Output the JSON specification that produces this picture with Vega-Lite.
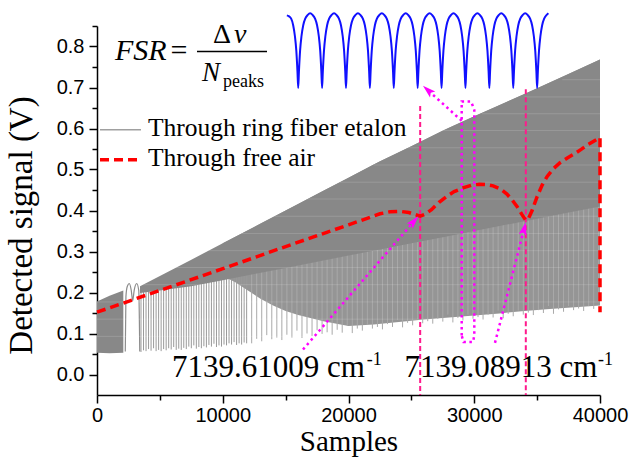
{
  "$schema": "https://vega.github.io/schema/vega-lite/v6.json",
  "width": 503,
  "height": 369,
  "autosize": {"type": "none"},
  "padding": {"left": 97, "top": 26, "right": 32, "bottom": 68},
  "background": "white",
  "config": {
    "view": {"stroke": null},
    "axis": {
      "domainColor": "black", "domainWidth": 1.5, "tickColor": "black", "tickWidth": 1.5,
      "labelColor": "black", "labelFont": "Liberation Sans", "labelFontSize": 20,
      "titleFont": "Liberation Serif", "titleFontWeight": "normal", "titleColor": "black", "grid": false
    }
  },
  "datasets": {
    "band": [
      {"s": 10000, "v": 0.24, "v2": 0.32}, {"s": 11000, "v": 0.225, "v2": 0.336}, {"s": 12000, "v": 0.205, "v2": 0.352},
      {"s": 13000, "v": 0.185, "v2": 0.368}, {"s": 14000, "v": 0.168, "v2": 0.384}, {"s": 15000, "v": 0.155, "v2": 0.4},
      {"s": 16000, "v": 0.145, "v2": 0.416}, {"s": 18000, "v": 0.13, "v2": 0.448}, {"s": 20000, "v": 0.118, "v2": 0.48},
      {"s": 22000, "v": 0.122, "v2": 0.512}, {"s": 24000, "v": 0.128, "v2": 0.542}, {"s": 26000, "v": 0.134, "v2": 0.572},
      {"s": 28000, "v": 0.139, "v2": 0.602}, {"s": 30000, "v": 0.144, "v2": 0.63}, {"s": 32000, "v": 0.149, "v2": 0.657},
      {"s": 34000, "v": 0.155, "v2": 0.684}, {"s": 36000, "v": 0.16, "v2": 0.712}, {"s": 38000, "v": 0.164, "v2": 0.74},
      {"s": 40000, "v": 0.168, "v2": 0.768}
    ],
    "dark": [
      {"seg": "a", "s": 0, "v": 0.053, "v2": 0.178}, {"seg": "a", "s": 1000, "v": 0.052, "v2": 0.192}, {"seg": "a", "s": 2094, "v": 0.053, "v2": 0.205},
      {"seg": "b", "s": 3420, "v": 0.199, "v2": 0.215}, {"seg": "b", "s": 5000, "v": 0.205, "v2": 0.24}, {"seg": "b", "s": 7500, "v": 0.215, "v2": 0.28},
      {"seg": "b", "s": 10000, "v": 0.23, "v2": 0.32}, {"seg": "b", "s": 12500, "v": 0.245, "v2": 0.36}, {"seg": "b", "s": 15000, "v": 0.26, "v2": 0.4},
      {"seg": "b", "s": 17500, "v": 0.275, "v2": 0.44}, {"seg": "b", "s": 20000, "v": 0.29, "v2": 0.48}, {"seg": "b", "s": 22500, "v": 0.305, "v2": 0.52},
      {"seg": "b", "s": 25000, "v": 0.32, "v2": 0.557}, {"seg": "b", "s": 27500, "v": 0.335, "v2": 0.595}, {"seg": "b", "s": 30000, "v": 0.35, "v2": 0.63},
      {"seg": "b", "s": 32500, "v": 0.365, "v2": 0.664}, {"seg": "b", "s": 35000, "v": 0.38, "v2": 0.698}, {"seg": "b", "s": 37500, "v": 0.395, "v2": 0.733},
      {"seg": "b", "s": 40000, "v": 0.41, "v2": 0.768}
    ],
    "spikes": [
      {"s": 3500, "v": 0.055, "v2": 0.21}, {"s": 3700, "v": 0.059, "v2": 0.211}, {"s": 3900, "v": 0.057, "v2": 0.213}, {"s": 4100, "v": 0.062, "v2": 0.215},
      {"s": 4300, "v": 0.058, "v2": 0.217}, {"s": 4500, "v": 0.064, "v2": 0.218}, {"s": 4700, "v": 0.057, "v2": 0.22}, {"s": 4900, "v": 0.06, "v2": 0.222},
      {"s": 5100, "v": 0.057, "v2": 0.223}, {"s": 5300, "v": 0.062, "v2": 0.225}, {"s": 5500, "v": 0.059, "v2": 0.227}, {"s": 5700, "v": 0.064, "v2": 0.228},
      {"s": 5900, "v": 0.061, "v2": 0.23}, {"s": 6100, "v": 0.067, "v2": 0.232}, {"s": 6300, "v": 0.06, "v2": 0.234}, {"s": 6500, "v": 0.063, "v2": 0.235},
      {"s": 6700, "v": 0.06, "v2": 0.237}, {"s": 6900, "v": 0.065, "v2": 0.239}, {"s": 7100, "v": 0.062, "v2": 0.24}, {"s": 7300, "v": 0.068, "v2": 0.242},
      {"s": 7500, "v": 0.064, "v2": 0.244}, {"s": 7700, "v": 0.071, "v2": 0.245}, {"s": 7900, "v": 0.063, "v2": 0.247}, {"s": 8100, "v": 0.067, "v2": 0.249},
      {"s": 8300, "v": 0.064, "v2": 0.251}, {"s": 8500, "v": 0.069, "v2": 0.252}, {"s": 8700, "v": 0.066, "v2": 0.254}, {"s": 8900, "v": 0.072, "v2": 0.256},
      {"s": 9100, "v": 0.068, "v2": 0.257}, {"s": 9300, "v": 0.075, "v2": 0.259}, {"s": 9500, "v": 0.067, "v2": 0.261}, {"s": 9700, "v": 0.071, "v2": 0.262},
      {"s": 9900, "v": 0.068, "v2": 0.264}, {"s": 10100, "v": 0.073, "v2": 0.266}, {"s": 10300, "v": 0.071, "v2": 0.268}, {"s": 10500, "v": 0.076, "v2": 0.269},
      {"s": 10700, "v": 0.073, "v2": 0.271}, {"s": 10900, "v": 0.079, "v2": 0.273}, {"s": 11100, "v": 0.072, "v2": 0.274}, {"s": 11300, "v": 0.076, "v2": 0.276},
      {"s": 11500, "v": 0.073, "v2": 0.278}, {"s": 11700, "v": 0.078, "v2": 0.279}, {"s": 11900, "v": 0.076, "v2": 0.281}
    ],
    "spikes2": [
      {"s": 12300, "v": 0.076, "v2": 0.285}, {"s": 12700, "v": 0.087, "v2": 0.288}, {"s": 13100, "v": 0.081, "v2": 0.291}, {"s": 13500, "v": 0.096, "v2": 0.295},
      {"s": 13900, "v": 0.086, "v2": 0.298}, {"s": 14300, "v": 0.09, "v2": 0.302}, {"s": 14700, "v": 0.084, "v2": 0.305}, {"s": 15100, "v": 0.097, "v2": 0.308},
      {"s": 15500, "v": 0.09, "v2": 0.312}, {"s": 15900, "v": 0.107, "v2": 0.315}, {"s": 16300, "v": 0.089, "v2": 0.319}, {"s": 16700, "v": 0.1, "v2": 0.322},
      {"s": 17100, "v": 0.094, "v2": 0.325}, {"s": 17500, "v": 0.108, "v2": 0.329}, {"s": 17900, "v": 0.099, "v2": 0.332}, {"s": 18300, "v": 0.103, "v2": 0.336},
      {"s": 18700, "v": 0.097, "v2": 0.339}, {"s": 19100, "v": 0.109, "v2": 0.342}, {"s": 19500, "v": 0.102, "v2": 0.346}, {"s": 19900, "v": 0.12, "v2": 0.349},
      {"s": 20300, "v": 0.101, "v2": 0.353}, {"s": 20700, "v": 0.112, "v2": 0.356}, {"s": 21100, "v": 0.107, "v2": 0.359}, {"s": 21500, "v": 0.121, "v2": 0.363},
      {"s": 21900, "v": 0.112, "v2": 0.366}, {"s": 22300, "v": 0.116, "v2": 0.37}, {"s": 22700, "v": 0.11, "v2": 0.373}, {"s": 23100, "v": 0.123, "v2": 0.376},
      {"s": 23500, "v": 0.116, "v2": 0.38}, {"s": 23900, "v": 0.133, "v2": 0.383}, {"s": 24300, "v": 0.115, "v2": 0.387}, {"s": 24700, "v": 0.126, "v2": 0.39},
      {"s": 25100, "v": 0.12, "v2": 0.393}, {"s": 25500, "v": 0.135, "v2": 0.397}, {"s": 25900, "v": 0.125, "v2": 0.4}, {"s": 26300, "v": 0.13, "v2": 0.404},
      {"s": 26700, "v": 0.124, "v2": 0.407}, {"s": 27100, "v": 0.136, "v2": 0.41}, {"s": 27500, "v": 0.129, "v2": 0.414}, {"s": 27900, "v": 0.146, "v2": 0.417},
      {"s": 28300, "v": 0.127, "v2": 0.421}, {"s": 28700, "v": 0.138, "v2": 0.424}, {"s": 29100, "v": 0.132, "v2": 0.427}, {"s": 29500, "v": 0.146, "v2": 0.431},
      {"s": 29900, "v": 0.136, "v2": 0.434}, {"s": 30300, "v": 0.14, "v2": 0.438}, {"s": 30700, "v": 0.134, "v2": 0.441}, {"s": 31100, "v": 0.146, "v2": 0.444},
      {"s": 31500, "v": 0.139, "v2": 0.448}, {"s": 31900, "v": 0.156, "v2": 0.451}, {"s": 32300, "v": 0.137, "v2": 0.455}, {"s": 32700, "v": 0.148, "v2": 0.458},
      {"s": 33100, "v": 0.142, "v2": 0.461}, {"s": 33500, "v": 0.156, "v2": 0.465}, {"s": 33900, "v": 0.146, "v2": 0.468}, {"s": 34300, "v": 0.151, "v2": 0.472},
      {"s": 34700, "v": 0.145, "v2": 0.475}, {"s": 35100, "v": 0.157, "v2": 0.478}, {"s": 35500, "v": 0.15, "v2": 0.482}, {"s": 35900, "v": 0.167, "v2": 0.485},
      {"s": 36300, "v": 0.148, "v2": 0.489}, {"s": 36700, "v": 0.159, "v2": 0.492}, {"s": 37100, "v": 0.153, "v2": 0.495}, {"s": 37500, "v": 0.167, "v2": 0.499},
      {"s": 37900, "v": 0.157, "v2": 0.502}, {"s": 38300, "v": 0.161, "v2": 0.506}, {"s": 38700, "v": 0.155, "v2": 0.509}, {"s": 39100, "v": 0.167, "v2": 0.512},
      {"s": 39500, "v": 0.16, "v2": 0.516}, {"s": 39900, "v": 0.177, "v2": 0.519}
    ],
    "loops": [
      {"s": 2250, "v": 0.056}, {"s": 2300, "v": 0.19}, {"s": 2400, "v": 0.214}, {"s": 2570, "v": 0.222}, {"s": 2720, "v": 0.206},
      {"s": 2839, "v": 0.18}, {"s": 2960, "v": 0.206}, {"s": 3157, "v": 0.222}, {"s": 3320, "v": 0.205}, {"s": 3400, "v": 0.056}
    ],
    "hl": [
      {"v": 0.093, "s": 0, "s2": 40000}, {"v": 0.135, "s": 0, "s2": 40000}, {"v": 0.177, "s": 0, "s2": 40000}, {"v": 0.219, "s": 3700, "s2": 40000},
      {"v": 0.261, "s": 6300, "s2": 40000}, {"v": 0.302, "s": 8900, "s2": 40000}, {"v": 0.344, "s": 11500, "s2": 40000}, {"v": 0.386, "s": 14100, "s2": 40000},
      {"v": 0.428, "s": 16700, "s2": 40000}, {"v": 0.469, "s": 19300, "s2": 40000}, {"v": 0.511, "s": 22000, "s2": 40000}, {"v": 0.553, "s": 24700, "s2": 40000},
      {"v": 0.595, "s": 27500, "s2": 40000}, {"v": 0.636, "s": 30600, "s2": 40000}, {"v": 0.677, "s": 34000, "s2": 40000}, {"v": 0.719, "s": 37000, "s2": 40000}
    ],
    "vlines": [{"s": 25700, "v": 0.655, "v2": -0.05}, {"s": 34100, "v": 0.696, "v2": -0.05}],
    "red": [
      {"o": 1, "s": 0, "v": 0.152}, {"o": 2, "s": 5000, "v": 0.205}, {"o": 3, "s": 10000, "v": 0.258}, {"o": 4, "s": 15000, "v": 0.312},
      {"o": 5, "s": 20000, "v": 0.365}, {"o": 6, "s": 22500, "v": 0.392}, {"o": 7, "s": 23300, "v": 0.397}, {"o": 8, "s": 24100, "v": 0.398},
      {"o": 9, "s": 24800, "v": 0.395}, {"o": 10, "s": 25300, "v": 0.39}, {"o": 11, "s": 25700, "v": 0.386}, {"o": 12, "s": 26100, "v": 0.391},
      {"o": 13, "s": 26600, "v": 0.402}, {"o": 14, "s": 27200, "v": 0.42}, {"o": 15, "s": 27800, "v": 0.434}, {"o": 16, "s": 28400, "v": 0.446},
      {"o": 17, "s": 29100, "v": 0.455}, {"o": 18, "s": 29800, "v": 0.462}, {"o": 19, "s": 30400, "v": 0.464}, {"o": 20, "s": 31000, "v": 0.463},
      {"o": 21, "s": 31500, "v": 0.46}, {"o": 22, "s": 32100, "v": 0.452}, {"o": 23, "s": 32600, "v": 0.44}, {"o": 24, "s": 33000, "v": 0.426},
      {"o": 25, "s": 33400, "v": 0.41}, {"o": 26, "s": 33800, "v": 0.39}, {"o": 27, "s": 34100, "v": 0.376}, {"o": 28, "s": 34300, "v": 0.38},
      {"o": 29, "s": 34600, "v": 0.4}, {"o": 30, "s": 35000, "v": 0.434}, {"o": 31, "s": 35400, "v": 0.462}, {"o": 32, "s": 35800, "v": 0.483},
      {"o": 33, "s": 36300, "v": 0.502}, {"o": 34, "s": 36800, "v": 0.516}, {"o": 35, "s": 37400, "v": 0.528}, {"o": 36, "s": 37900, "v": 0.537},
      {"o": 37, "s": 38500, "v": 0.549}, {"o": 38, "s": 39000, "v": 0.56}, {"o": 39, "s": 39500, "v": 0.569}, {"o": 40, "s": 40000, "v": 0.578},
      {"o": 41, "s": 40000, "v": 0.152}
    ],
    "dots": [
      {"id": "loop", "o": 1, "s": 29002, "v": 0.095}, {"id": "loop", "o": 2, "s": 29002, "v": 0.666}, {"id": "loop", "o": 3, "s": 29750, "v": 0.666},
      {"id": "loop", "o": 4, "s": 30004, "v": 0.645}, {"id": "loop", "o": 5, "s": 30004, "v": 0.095}, {"id": "loop", "o": 6, "s": 29900, "v": 0.079},
      {"id": "loop", "o": 7, "s": 29150, "v": 0.079}, {"id": "loop", "o": 8, "s": 29002, "v": 0.095},
      {"id": "a1", "o": 1, "s": 16382, "v": 0.061}, {"id": "a1", "o": 2, "s": 25213, "v": 0.3738},
      {"id": "a2", "o": 1, "s": 31650, "v": 0.0772}, {"id": "a2", "o": 2, "s": 33964, "v": 0.3558},
      {"id": "a3", "o": 1, "s": 29002, "v": 0.6189}, {"id": "a3", "o": 2, "s": 26306, "v": 0.6935}
    ],
    "blue": [
      {"s": 15100, "v": 0.876},
      {"s": 15240, "v": 0.874}, {"s": 15440, "v": 0.868}, {"s": 15600, "v": 0.852}, {"s": 15740, "v": 0.825}, {"s": 15850, "v": 0.79}, {"s": 15940, "v": 0.74}, {"s": 16000, "v": 0.699},
      {"s": 16060, "v": 0.74}, {"s": 16150, "v": 0.79}, {"s": 16260, "v": 0.825}, {"s": 16400, "v": 0.852}, {"s": 16560, "v": 0.868}, {"s": 16760, "v": 0.877}, {"s": 16950, "v": 0.881},
      {"s": 17140, "v": 0.877}, {"s": 17340, "v": 0.868}, {"s": 17500, "v": 0.852}, {"s": 17640, "v": 0.825}, {"s": 17750, "v": 0.79}, {"s": 17840, "v": 0.74}, {"s": 17900, "v": 0.699},
      {"s": 17960, "v": 0.74}, {"s": 18050, "v": 0.79}, {"s": 18160, "v": 0.825}, {"s": 18300, "v": 0.852}, {"s": 18460, "v": 0.868}, {"s": 18660, "v": 0.877}, {"s": 18850, "v": 0.881},
      {"s": 19040, "v": 0.877}, {"s": 19240, "v": 0.868}, {"s": 19400, "v": 0.852}, {"s": 19540, "v": 0.825}, {"s": 19650, "v": 0.79}, {"s": 19740, "v": 0.74}, {"s": 19800, "v": 0.699},
      {"s": 19860, "v": 0.74}, {"s": 19950, "v": 0.79}, {"s": 20060, "v": 0.825}, {"s": 20200, "v": 0.852}, {"s": 20360, "v": 0.868}, {"s": 20560, "v": 0.877}, {"s": 20750, "v": 0.881},
      {"s": 20940, "v": 0.877}, {"s": 21140, "v": 0.868}, {"s": 21300, "v": 0.852}, {"s": 21440, "v": 0.825}, {"s": 21550, "v": 0.79}, {"s": 21640, "v": 0.74}, {"s": 21700, "v": 0.699},
      {"s": 21760, "v": 0.74}, {"s": 21850, "v": 0.79}, {"s": 21960, "v": 0.825}, {"s": 22100, "v": 0.852}, {"s": 22260, "v": 0.868}, {"s": 22460, "v": 0.877}, {"s": 22650, "v": 0.881},
      {"s": 22840, "v": 0.877}, {"s": 23040, "v": 0.868}, {"s": 23200, "v": 0.852}, {"s": 23340, "v": 0.825}, {"s": 23450, "v": 0.79}, {"s": 23540, "v": 0.74}, {"s": 23600, "v": 0.699},
      {"s": 23660, "v": 0.74}, {"s": 23750, "v": 0.79}, {"s": 23860, "v": 0.825}, {"s": 24000, "v": 0.852}, {"s": 24160, "v": 0.868}, {"s": 24360, "v": 0.877}, {"s": 24550, "v": 0.881},
      {"s": 24740, "v": 0.877}, {"s": 24940, "v": 0.868}, {"s": 25100, "v": 0.852}, {"s": 25240, "v": 0.825}, {"s": 25350, "v": 0.79}, {"s": 25440, "v": 0.74}, {"s": 25500, "v": 0.699},
      {"s": 25560, "v": 0.74}, {"s": 25650, "v": 0.79}, {"s": 25760, "v": 0.825}, {"s": 25900, "v": 0.852}, {"s": 26060, "v": 0.868}, {"s": 26260, "v": 0.877}, {"s": 26450, "v": 0.881},
      {"s": 26640, "v": 0.877}, {"s": 26840, "v": 0.868}, {"s": 27000, "v": 0.852}, {"s": 27140, "v": 0.825}, {"s": 27250, "v": 0.79}, {"s": 27340, "v": 0.74}, {"s": 27400, "v": 0.699},
      {"s": 27460, "v": 0.74}, {"s": 27550, "v": 0.79}, {"s": 27660, "v": 0.825}, {"s": 27800, "v": 0.852}, {"s": 27960, "v": 0.868}, {"s": 28160, "v": 0.877}, {"s": 28350, "v": 0.881},
      {"s": 28540, "v": 0.877}, {"s": 28740, "v": 0.868}, {"s": 28900, "v": 0.852}, {"s": 29040, "v": 0.825}, {"s": 29150, "v": 0.79}, {"s": 29240, "v": 0.74}, {"s": 29300, "v": 0.699},
      {"s": 29360, "v": 0.74}, {"s": 29450, "v": 0.79}, {"s": 29560, "v": 0.825}, {"s": 29700, "v": 0.852}, {"s": 29860, "v": 0.868}, {"s": 30060, "v": 0.877}, {"s": 30250, "v": 0.881},
      {"s": 30440, "v": 0.877}, {"s": 30640, "v": 0.868}, {"s": 30800, "v": 0.852}, {"s": 30940, "v": 0.825}, {"s": 31050, "v": 0.79}, {"s": 31140, "v": 0.74}, {"s": 31200, "v": 0.699},
      {"s": 31260, "v": 0.74}, {"s": 31350, "v": 0.79}, {"s": 31460, "v": 0.825}, {"s": 31600, "v": 0.852}, {"s": 31760, "v": 0.868}, {"s": 31960, "v": 0.877}, {"s": 32150, "v": 0.881},
      {"s": 32340, "v": 0.877}, {"s": 32540, "v": 0.868}, {"s": 32700, "v": 0.852}, {"s": 32840, "v": 0.825}, {"s": 32950, "v": 0.79}, {"s": 33040, "v": 0.74}, {"s": 33100, "v": 0.699},
      {"s": 33160, "v": 0.74}, {"s": 33250, "v": 0.79}, {"s": 33360, "v": 0.825}, {"s": 33500, "v": 0.852}, {"s": 33660, "v": 0.868}, {"s": 33860, "v": 0.877}, {"s": 34050, "v": 0.881},
      {"s": 34240, "v": 0.877}, {"s": 34440, "v": 0.868}, {"s": 34600, "v": 0.852}, {"s": 34740, "v": 0.825}, {"s": 34850, "v": 0.79}, {"s": 34940, "v": 0.74}, {"s": 35000, "v": 0.699},
      {"s": 35060, "v": 0.74}, {"s": 35150, "v": 0.79}, {"s": 35260, "v": 0.825}, {"s": 35400, "v": 0.852}, {"s": 35560, "v": 0.868}, {"s": 35760, "v": 0.877}, {"s": 35900, "v": 0.881}
    ]
  },
  "layer": [
    {
      "encoding": {
        "x": {"field": "s", "type": "quantitative", "scale": {"domain": [0, 40000], "nice": false, "zero": false},
          "axis": {"values": [0, 10000, 20000, 30000, 40000], "format": "d", "title": "Samples", "tickSize": 8, "labelPadding": 2,
            "labelFlush": false, "labelOverlap": false, "titleFontSize": 29, "titlePadding": 2}},
        "y": {"field": "v", "type": "quantitative", "scale": {"domain": [-0.05, 0.85], "nice": false, "zero": false},
          "axis": {"values": [0, 0.1, 0.2, 0.3, 0.4, 0.5, 0.6, 0.7, 0.8], "format": ".1f", "title": "Detected signal (V)", "tickSize": 8,
            "labelPadding": 5, "labelFlush": false, "labelOverlap": false, "titleFontSize": 33, "titlePadding": 18, "titleY": 199}}
      },
      "layer": [
        {"data": {"name": "band"}, "mark": {"type": "area", "color": "#959595"}, "encoding": {"y2": {"field": "v2"}}},
        {"data": {"name": "spikes"}, "mark": {"type": "rule", "color": "#999999", "strokeWidth": 1}, "encoding": {"y2": {"field": "v2"}}},
        {"data": {"name": "spikes2"}, "mark": {"type": "rule", "color": "#a9a9a9", "strokeWidth": 1}, "encoding": {"y2": {"field": "v2"}}},
        {"data": {"name": "dark"}, "mark": {"type": "area", "color": "#888888"}, "encoding": {"y2": {"field": "v2"}, "detail": {"field": "seg"}}},
        {"data": {"name": "loops"}, "mark": {"type": "line", "color": "#8c8c8c", "strokeWidth": 1.2, "interpolate": "monotone"}, "encoding": {}},
        {"data": {"name": "hl"}, "mark": {"type": "rule", "color": "white", "opacity": 0.15, "strokeWidth": 1}, "encoding": {"x2": {"field": "s2"}}},
        {"data": {"name": "vlines"}, "mark": {"type": "rule", "color": "#ff1a8c", "strokeWidth": 2, "strokeDash": [5, 3]}, "encoding": {"y2": {"field": "v2"}}},
        {"data": {"name": "red"}, "mark": {"type": "line", "color": "#ff0000", "strokeWidth": 3.5, "strokeDash": [9, 5]}, "encoding": {"order": {"field": "o"}}},
        {"data": {"name": "dots"}, "mark": {"type": "line", "color": "#ff00ff", "strokeWidth": 2.5, "strokeDash": [2.5, 3.5]}, "encoding": {"detail": {"field": "id"}, "order": {"field": "o"}}},
        {"data": {"values": [{"s": 25213, "v": 0.3738}]}, "mark": {"type": "point", "shape": "M0,-1L0.6,1L0,0.6L-0.6,1Z", "size": 170, "angle": 41, "filled": true, "color": "#ff00ff", "opacity": 1}, "encoding": {}},
        {"data": {"values": [{"s": 33964, "v": 0.3558}]}, "mark": {"type": "point", "shape": "M0,-1L0.6,1L0,0.6L-0.6,1Z", "size": 170, "angle": 14, "filled": true, "color": "#ff00ff", "opacity": 1}, "encoding": {}},
        {"data": {"values": [{"s": 26306, "v": 0.6935}]}, "mark": {"type": "point", "shape": "M0,-1L0.6,1L0,0.6L-0.6,1Z", "size": 170, "angle": 312, "filled": true, "color": "#ff00ff", "opacity": 1}, "encoding": {}},
        {"data": {"name": "blue"}, "mark": {"type": "line", "color": "#1010ff", "strokeWidth": 2, "interpolate": "monotone"}, "encoding": {}},
        {"data": {"values": [{"s": 1431, "v": 0.7675, "t": "FSR"}]}, "mark": {"type": "text", "font": "Liberation Serif", "fontSize": 30, "fontStyle": "italic", "align": "left", "baseline": "alphabetic", "color": "black"}, "encoding": {"text": {"field": "t"}}},
        {"data": {"values": [{"s": 6521, "v": 0.7675, "t": "="}]}, "mark": {"type": "text", "font": "Liberation Serif", "fontSize": 30, "align": "center", "baseline": "alphabetic", "color": "black"}, "encoding": {"text": {"field": "t"}}},
        {"data": {"values": [{"s": 7952, "s2": 13519, "v": 0.7878}]}, "mark": {"type": "rule", "color": "black", "strokeWidth": 1.5}, "encoding": {"x2": {"field": "s2"}}},
        {"data": {"values": [{"s": 9225, "v": 0.809, "t": "Δ"}]}, "mark": {"type": "text", "font": "Liberation Serif", "fontSize": 28, "align": "left", "baseline": "alphabetic", "color": "black"}, "encoding": {"text": {"field": "t"}}},
        {"data": {"values": [{"s": 10895, "v": 0.809, "t": "ν"}]}, "mark": {"type": "text", "font": "Liberation Serif", "fontSize": 28, "fontStyle": "italic", "align": "left", "baseline": "alphabetic", "color": "black"}, "encoding": {"text": {"field": "t"}}},
        {"data": {"values": [{"s": 8350, "v": 0.7147, "t": "N"}]}, "mark": {"type": "text", "font": "Liberation Serif", "fontSize": 27, "fontStyle": "italic", "align": "left", "baseline": "alphabetic", "color": "black"}, "encoding": {"text": {"field": "t"}}},
        {"data": {"values": [{"s": 10020, "v": 0.7018, "t": "peaks"}, {"s": 21450, "v": 0.022, "t": "-1"}, {"s": 39850, "v": 0.022, "t": "-1"}]}, "mark": {"type": "text", "font": "Liberation Serif", "fontSize": 18, "align": "left", "baseline": "alphabetic", "color": "black"}, "encoding": {"text": {"field": "t"}}},
        {"data": {"values": [{"s": 239, "s2": 3499, "v": 0.597}]}, "mark": {"type": "rule", "color": "#a0a0a0", "strokeWidth": 1.5}, "encoding": {"x2": {"field": "s2"}}},
        {"data": {"values": [{"s": 239, "s2": 3499, "v": 0.524}]}, "mark": {"type": "rule", "color": "#ff0000", "strokeWidth": 3.5, "strokeDash": [9, 5]}, "encoding": {"x2": {"field": "s2"}}},
        {"data": {"values": [{"s": 4056, "v": 0.5807, "t": "Through ring fiber etalon"}, {"s": 4056, "v": 0.5075, "t": "Through free air"}]}, "mark": {"type": "text", "font": "Liberation Serif", "fontSize": 25.5, "align": "left", "baseline": "alphabetic", "color": "black"}, "encoding": {"text": {"field": "t"}}},
        {"data": {"values": [{"s": 5964, "v": -0.005, "t": "7139.61009 cm"}, {"s": 24445, "v": -0.005, "t": "7139.08913 cm"}]}, "mark": {"type": "text", "font": "Liberation Serif", "fontSize": 31, "align": "left", "baseline": "alphabetic", "color": "black"}, "encoding": {"text": {"field": "t"}}}
      ]
    },
    {
      "data": {"values": [{"s": 0, "v": 0}]},
      "mark": {"type": "point", "opacity": 0},
      "encoding": {
        "x": {"field": "s", "type": "quantitative", "scale": {"domain": [0, 40000], "nice": false, "zero": false},
          "axis": {"orient": "bottom", "values": [5000, 15000, 25000, 35000], "labels": false, "domain": false, "tickSize": 5, "title": null}},
        "y": {"field": "v", "type": "quantitative", "scale": {"domain": [-0.05, 0.85], "nice": false, "zero": false},
          "axis": {"orient": "left", "values": [0.05, 0.15, 0.25, 0.35, 0.45, 0.55, 0.65, 0.75, 0.85], "labels": false, "domain": false, "tickSize": 5, "title": null}}
      }
    }
  ],
  "resolve": {"axis": {"x": "independent", "y": "independent"}}
}
